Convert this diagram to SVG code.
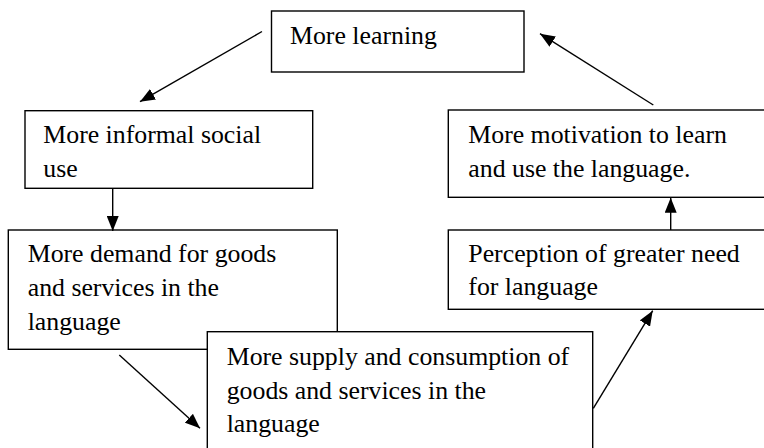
<svg xmlns="http://www.w3.org/2000/svg" width="764" height="448" viewBox="0 0 764 448">
  <style>
    .box { fill: #fff; stroke: #000; stroke-width: 1.4; }
    .lbl { font-family: "Liberation Serif", "Times New Roman", serif; font-size: 25.8px; fill: #000; }
    .conn { stroke: #000; stroke-width: 1.4; fill: none; marker-end: url(#arrow); }
  </style>
  <defs>
    <marker id="arrow" markerUnits="userSpaceOnUse" markerWidth="16" markerHeight="12" refX="15" refY="6" orient="auto">
      <path d="M0,0 L15,6 L0,12 z" fill="#000"/>
    </marker>
  </defs>
  <rect width="764" height="448" fill="#fff"/>

  <g id="n-learning">
    <rect class="box" x="271.5" y="11" width="252.5" height="61"/>
    <text class="lbl" x="290" y="44">More learning</text>
  </g>

  <g id="n-social">
    <rect class="box" x="25" y="110.7" width="287.7" height="77.6"/>
    <text class="lbl" x="43.3" y="143.3">More informal social</text>
    <text class="lbl" x="43.3" y="177.3">use</text>
  </g>

  <g id="n-demand">
    <rect class="box" x="8.3" y="230" width="329" height="119.3"/>
    <text class="lbl" x="27.7" y="261.7">More demand for goods</text>
    <text class="lbl" x="27.7" y="296">and services in the</text>
    <text class="lbl" x="27.7" y="329.5">language</text>
  </g>

  <g id="n-supply">
    <rect class="box" x="207.3" y="331.7" width="385.4" height="130"/>
    <text class="lbl" x="226.7" y="365">More supply and consumption of</text>
    <text class="lbl" x="226.7" y="399.3">goods and services in the</text>
    <text class="lbl" x="226.7" y="432">language</text>
  </g>

  <g id="n-perception">
    <rect class="box" x="448.3" y="230" width="330" height="79.3"/>
    <text class="lbl" x="468.3" y="261.7">Perception of greater need</text>
    <text class="lbl" x="468.3" y="295">for language</text>
  </g>

  <g id="n-motivation">
    <rect class="box" x="448.3" y="110" width="330" height="87.3"/>
    <text class="lbl" x="468.3" y="142.7">More motivation to learn</text>
    <text class="lbl" x="468.3" y="176.7">and use the language.</text>
  </g>

  <g id="connectors">
    <line class="conn" x1="262" y1="31.5" x2="140" y2="101.7"/>
    <line class="conn" x1="112.7" y1="188.3" x2="112.7" y2="231"/>
    <line class="conn" x1="119.3" y1="355" x2="200" y2="428.3"/>
    <line class="conn" x1="593.3" y1="408.3" x2="652.7" y2="310.7"/>
    <line class="conn" x1="670.7" y1="230" x2="670.7" y2="197.8"/>
    <line class="conn" x1="653.3" y1="105" x2="540" y2="33.7"/>
  </g>
</svg>
